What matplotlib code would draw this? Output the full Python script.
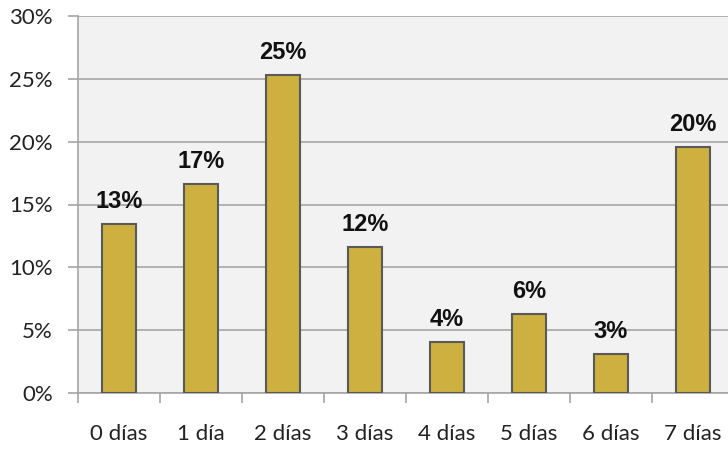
import matplotlib.pyplot as plt
from matplotlib.ticker import FuncFormatter, FixedLocator

categories = ["0 días", "1 día", "2 días", "3 días", "4 días", "5 días", "6 días", "7 días"]
values = [13.45, 16.65, 25.3, 11.6, 4.05, 6.3, 3.1, 19.6]
labels = ["13%", "17%", "25%", "12%", "4%", "6%", "3%", "20%"]

plt.rcParams["font.family"] = ["Lato", "DejaVu Sans"]

fig = plt.figure(figsize=(7.28, 4.5), dpi=100)
ax = fig.add_axes([78 / 728, 57 / 450, 656 / 728, 377 / 450])
ax.set_facecolor("#F2F2F2")

x = list(range(len(categories)))
ax.bar(x, values, width=0.42, color="#CDB03F", edgecolor="#595959", linewidth=1.5, zorder=3)

for i, (v, lab) in enumerate(zip(values, labels)):
    ax.annotate(lab, (i, v), xytext=(0, 11.5), textcoords="offset points",
                ha="center", va="baseline", fontsize=17, fontweight="bold",
                color="#111111", family=["Liberation Sans", "DejaVu Sans"])

ax.set_xlim(-0.5, len(categories) - 0.5)
ax.set_ylim(0, 30)
ax.set_yticks(range(0, 31, 5))
ax.yaxis.set_major_formatter(FuncFormatter(lambda v, p: f"{v:.0f}%"))
ax.grid(axis="y", color="#A6A6A6", linewidth=1.2, zorder=0)

ax.set_xticks(x)
ax.set_xticklabels(categories)
ax.xaxis.set_minor_locator(FixedLocator([i - 0.5 for i in range(len(categories) + 1)]))
ax.tick_params(axis="x", which="major", length=0, pad=22, labelsize=16, labelcolor="#222222")
ax.tick_params(axis="x", which="minor", length=7, width=1.2, color="#A6A6A6", direction="out")
ax.tick_params(axis="y", length=7, width=1.2, color="#A6A6A6", labelsize=16,
               labelcolor="#222222", pad=11)

for s in ["top", "right"]:
    ax.spines[s].set_visible(False)
ax.spines["left"].set_color("#A6A6A6")
ax.spines["left"].set_linewidth(1.2)
ax.spines["bottom"].set_color("#A6A6A6")
ax.spines["bottom"].set_linewidth(1.2)

fig.savefig("out.png", dpi=100, facecolor="white")
